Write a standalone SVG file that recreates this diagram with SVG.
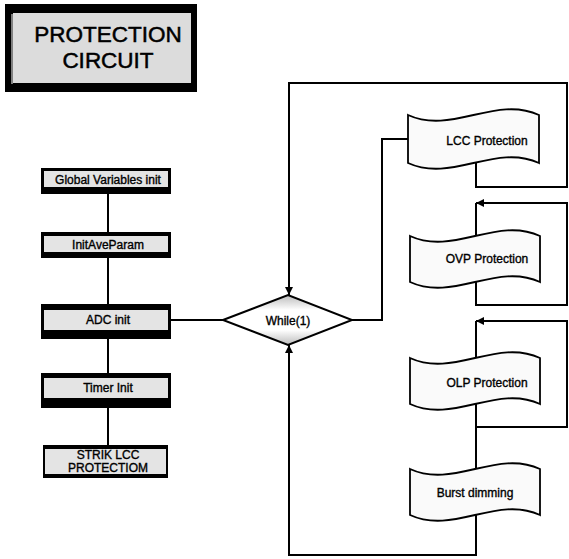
<svg xmlns="http://www.w3.org/2000/svg" width="569" height="559" viewBox="0 0 569 559">
<defs>
<style>
.frame{fill:#000}
.inner{fill:#e4e4e4}
.lbl{font-family:"Liberation Sans",Arial,sans-serif;font-size:12px;fill:#000;stroke:#000;stroke-width:0.35;text-anchor:middle}
.title{font-family:"Liberation Sans",Arial,sans-serif;font-size:22.5px;fill:#000;stroke:#000;stroke-width:0.5;text-anchor:middle}
.tape{fill:#fafafa;stroke:#000;stroke-width:1.8}
.line{fill:none;stroke:#000;stroke-width:2}
</style>
<marker id="arr" viewBox="0 0 10 10" refX="10" refY="5" markerWidth="8" markerHeight="8" markerUnits="userSpaceOnUse" orient="auto">
<path d="M0,0 L10,5 L0,10 Z" fill="#000"/>
</marker>
<linearGradient id="dg" x1="0" y1="0" x2="0" y2="1">
<stop offset="0" stop-color="#bbb"/>
<stop offset="0.3" stop-color="#fff"/>
<stop offset="0.7" stop-color="#fff"/>
<stop offset="1" stop-color="#bbb"/>
</linearGradient>
</defs>
<rect width="569" height="559" fill="#fff"/>

<g id="title">
<rect class="frame" x="5" y="4" width="192" height="88"/>
<rect x="13" y="13" width="178" height="70" fill="#dcdcdc"/>
<line x1="12" y1="14" x2="12" y2="84" stroke="#fff" stroke-width="1"/>
<text class="title" x="108" y="42">PROTECTION</text>
<text class="title" x="108" y="68">CIRCUIT</text>
</g>

<g id="connectors">
<line class="line" x1="108" y1="194" x2="108" y2="445"/>
<line class="line" x1="171" y1="320" x2="223" y2="320"/>
<polyline class="line" points="352,320 382,320 382,139 408,139"/>
<polyline class="line" points="476,163 476,187 567,187 567,83 289,83 289,295" marker-end="url(#arr)"/>
<polyline class="line" points="476,282 476,305 567,305 567,203 476,203" marker-end="url(#arr)"/>
<line class="line" x1="476" y1="203" x2="476" y2="236"/>
<polyline class="line" points="476,404 476,427 567,427 567,321 476,321" marker-end="url(#arr)"/>
<line class="line" x1="476" y1="321" x2="476" y2="358"/>
<line class="line" x1="476" y1="427" x2="476" y2="469"/>
<polyline class="line" points="476,515 476,555 289,555 289,345" marker-end="url(#arr)"/>
</g>

<g id="global-vars">
<rect class="frame" x="41" y="168" width="130" height="26"/>
<rect class="inner" x="44" y="171" width="124" height="16"/>
<text class="lbl" x="108" y="184">Global Variables init</text>
</g>
<g id="initaveparam">
<rect class="frame" x="41" y="232" width="130" height="26"/>
<rect class="inner" x="44" y="236" width="124" height="16"/>
<text class="lbl" x="108" y="249">InitAveParam</text>
</g>
<g id="adc-init">
<rect class="frame" x="41" y="304" width="130" height="35"/>
<rect class="inner" x="44" y="310" width="124" height="20"/>
<text class="lbl" x="108" y="324">ADC init</text>
</g>
<g id="timer-init">
<rect class="frame" x="41" y="373" width="130" height="35"/>
<rect class="inner" x="44" y="378" width="124" height="20"/>
<text class="lbl" x="108" y="392">Timer Init</text>
</g>
<g id="strik-lcc">
<rect class="frame" x="43" y="445" width="125" height="33"/>
<rect class="inner" x="45" y="449" width="121" height="25"/>
<text class="lbl" x="108" y="459" font-size="11">STRIK LCC</text>
<text class="lbl" x="108" y="472" font-size="11">PROTECTIOM</text>
</g>

<g id="while">
<polygon points="223,320 288,295 352,320 288,345" fill="url(#dg)" stroke="#000" stroke-width="2"/>
<text class="lbl" x="288" y="325" font-size="13">While(1)</text>
</g>

<g id="lcc-protection">
<path class="tape" d="M408,115 C451.7,135 495.3,95 539,115 L539,163 C495.3,143 451.7,183 408,163 Z"/>
<text class="lbl" x="487" y="145">LCC Protection</text>
</g>
<g id="ovp-protection">
<path class="tape" d="M410,236 C453.3,256 496.7,216 540,236 L540,282 C496.7,262 453.3,302 410,282 Z"/>
<text class="lbl" x="487" y="263">OVP Protection</text>
</g>
<g id="olp-protection">
<path class="tape" d="M410,358 C453.3,378 496.7,338 540,358 L540,404 C496.7,384 453.3,424 410,404 Z"/>
<text class="lbl" x="487" y="387">OLP Protection</text>
</g>
<g id="burst-dimming">
<path class="tape" d="M410,469 C453.3,489 496.7,449 540,469 L540,515 C496.7,495 453.3,535 410,515 Z"/>
<text class="lbl" x="475" y="497">Burst dimming</text>
</g>
</svg>
